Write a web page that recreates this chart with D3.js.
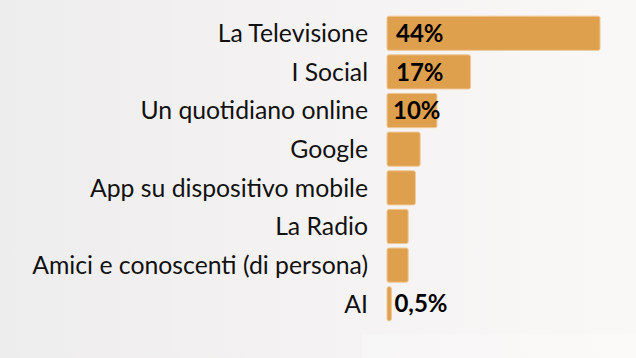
<!DOCTYPE html>
<html lang="it">
<head>
<meta charset="UTF-8">
<title>Fonti di informazione</title>
<script src="https://cdn.jsdelivr.net/npm/d3@7"></script>
<style>
    html, body { margin: 0; padding: 0; }
    body { width: 636px; height: 358px; overflow: hidden; }
</style>
</head>
<body>
<div id="chart"></div>
<script>
// data (percent)
const categories = ['La Televisione', 'I Social', 'Un quotidiano online', 'Google',
    'App su dispositivo mobile', 'La Radio', 'Amici e conoscenti (di persona)', 'AI']
const values = [44, 17, 10, 6.5, 5.5, 4, 4, 0.5]
const valueLabels = ['44%', '17%', '10%', '', '', '', '', '0,5%']

const w = 636
const h = 358

let svg = d3.select('#chart').append('svg')
    .attr('width', w)
    .attr('height', h)

// soft grey-to-white background
let defs = svg.append('defs')
let grad = defs.append('linearGradient')
    .attr('id', 'bg')
    .attr('x1', 0).attr('y1', 0).attr('x2', 1).attr('y2', 0)
grad.append('stop').attr('offset', '0%').attr('stop-color', '#eeeded')
grad.append('stop').attr('offset', '100%').attr('stop-color', '#faf8f7')

svg.append('rect')
   .attr('width', w).attr('height', h)
   .attr('fill', 'url(#bg)')

// faint lighter panel at the bottom right
svg.append('rect')
   .attr('x', 362).attr('y', 334)
   .attr('width', w - 362).attr('height', h - 334)
   .attr('fill', '#ffffff')
   .attr('opacity', 0.25)

let xScale = d3.scaleLinear()
    .domain([0, 44])
    .range([387, 598])

let yScale = d3.scaleBand()
    .domain(categories)
    .range([15, 322])
    .paddingInner(0.115)
    .paddingOuter(0.03)

// category labels
let labels = svg.append('g')
   .selectAll('text')
   .data(categories)
   .enter()
   .append('text')
   .attr('x', 368)
   .attr('y', d => yScale(d) + yScale.bandwidth() / 2)
   .attr('dy', '0.36em')
   .attr('text-anchor', 'end')
   .attr('font-family', 'Lato, sans-serif')
   .attr('font-size', 22)
   .attr('fill', '#111')
   .text(d => d)

// fit the widest label to the width it has in the picture
let widest = d3.max(labels.nodes(), n => n.getComputedTextLength())
let fs = 22 * 336 / widest
labels.attr('font-size', fs)

// bars
svg.append('g')
   .selectAll('rect')
   .data(values)
   .enter()
   .append('rect')
   .attr('x', xScale(0))
   .attr('y', (d, i) => yScale(categories[i]))
   .attr('width', d => xScale(d) - xScale(0) + 2)
   .attr('height', yScale.bandwidth())
   .attr('rx', 2)
   .attr('fill', '#dfa04e')
   .attr('stroke', '#efc796')
   .attr('stroke-width', 1)

// value labels
svg.append('g')
   .selectAll('text')
   .data(valueLabels)
   .enter()
   .append('text')
   .attr('x', (d, i) => i === 7 ? xScale(values[i]) + 5 : xScale(0) + (i === 2 ? 6 : 9))
   .attr('y', (d, i) => yScale(categories[i]) + yScale.bandwidth() / 2)
   .attr('dy', '0.36em')
   .attr('font-family', 'Lato, sans-serif')
   .attr('font-weight', 'bold')
   .attr('font-size', 24)
   .attr('fill', '#000')
   .text(d => d)
</script>
</body>
</html>
